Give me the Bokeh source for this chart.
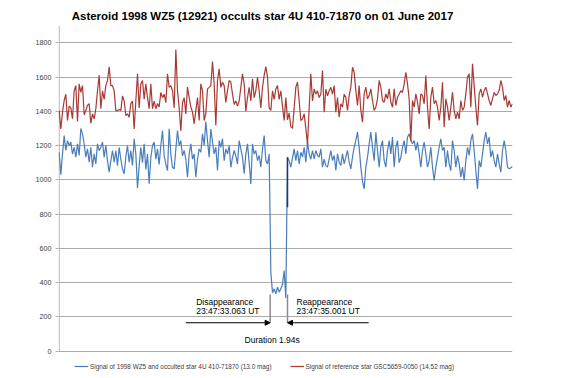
from bokeh.plotting import figure
from bokeh.models import Range1d, FixedTicker, Label, Legend, LegendItem, Arrow, NormalHead
from bokeh.embed import file_html
from bokeh.resources import INLINE

TITLE = "Asteroid 1998 WZ5 (12921) occults star 4U 410-71870 on 01 June 2017"
BLUE_LABEL = "Signal of 1998 WZ5 and occulted star 4U 410-71870 (13.0 mag)"
RED_LABEL = "Signal of reference star GSC5659-0050 (14.52 mag)"
Y_TICKS = [0, 200, 400, 600, 800, 1000, 1200, 1400, 1600, 1800]
Y_AXIS_TOP = 1900

# Signal of the occulted star + asteroid (frame samples)
blue = [
    1160, 1030, 1150, 1258, 1171, 1229, 1200, 1220, 1150, 1190,
    1132, 1210, 1142, 1300, 1268, 1210, 1132, 1181, 1103, 1190,
    1073, 1151, 1093, 1210, 1170, 1190, 1220, 1132, 1200, 1112,
    1044, 1112, 1171, 1103, 1171, 1083, 1190, 1120, 1064, 1035,
    1132, 1200, 1103, 1171, 1083, 1239, 1150, 951, 1080, 1190,
    1100, 1210, 1060, 1150, 977, 1130, 1200, 1220, 1120, 1180,
    1090, 1200, 1288, 1140, 1090, 1054, 1298, 1150, 1072, 1064,
    1180, 1288, 1200, 1229, 1140, 1171, 1120, 1015, 1150, 1210,
    1120, 1151, 1015, 1120, 1180, 1161, 1268, 1200, 1340, 1229,
    1132, 1297, 1220, 1151, 1190, 1054, 1229, 1190, 1240, 1112,
    1180, 1151, 1200, 1073, 1130, 1171, 1140, 1093, 1229, 1180,
    1132, 1035, 1150, 1210, 1100, 976, 1210, 1150, 1171, 1112,
    1142, 1073, 1180, 1258, 1112, 1093, 1150,
    460, 340, 363, 334, 373, 344, 363, 390, 470, 310,
    1132, 1110, 1074, 1130, 1181, 1112, 1171, 1093, 1161, 1132,
    1190, 1103, 1220, 1151, 1120, 1171, 1122, 1171, 1142, 1132,
    1181, 1074, 1120, 1083, 1074, 1122, 1171, 1112, 1142, 1054,
    1151, 1103, 1083, 1151, 1093, 1132, 1171, 1103, 1064, 1132,
    1190, 1230, 1278, 1190, 1074, 990, 947, 1074, 1132, 1210,
    1278, 1190, 1112, 1278, 1171, 1074, 1190, 1229, 1112, 1074,
    1171, 1229, 1151, 1249, 1074, 1190, 1229, 1100, 1130, 1190,
    1229, 1151, 1249, 1268, 1229, 1210, 1229, 1171, 1220, 1151,
    1074, 1171, 1220, 1151, 1074, 1112, 1190, 1074, 996, 1074,
    1130, 1190, 1239, 1171, 1190, 1074, 1171, 1093, 1054, 1229,
    1171, 1074, 1142, 1093, 1015, 1074, 996, 1112, 1190, 1142,
    1229, 1268, 1171, 1054, 947, 1112, 1074, 1151, 1229, 1278,
    1210, 1249, 1132, 1171, 1112, 1074, 1151, 1093, 1044, 1171,
    1229, 1171, 1074, 1064, 1070, 1077,
]

# Signal of the reference star
red = [
    1404, 1297, 1395, 1463, 1500, 1346, 1430, 1420, 1356, 1520,
    1550, 1340, 1560, 1510, 1550, 1380, 1405, 1435, 1445, 1330,
    1385, 1356, 1415, 1520, 1610, 1415, 1520, 1470, 1550, 1580,
    1660, 1550, 1550, 1520, 1404, 1404, 1410, 1404, 1490, 1460,
    1375, 1385, 1365, 1445, 1460, 1297, 1460, 1619, 1420, 1560,
    1580, 1470, 1560, 1480, 1415, 1560, 1415, 1460, 1415, 1445,
    1425, 1510, 1480, 1500, 1450, 1619, 1540, 1550, 1520, 1420,
    1761, 1520, 1420, 1285, 1450, 1480, 1385, 1541, 1480, 1425,
    1395, 1327, 1405, 1480, 1346, 1560, 1520, 1346, 1390, 1531,
    1540, 1550, 1690, 1560, 1317, 1580, 1648, 1540, 1570, 1550,
    1452, 1520, 1580, 1570, 1500, 1440, 1460, 1430, 1460, 1540,
    1619, 1560, 1400, 1480, 1540, 1460, 1590, 1480, 1520, 1599,
    1520, 1420, 1540, 1610, 1661, 1600, 1420, 1405, 1520, 1470,
    1530, 1550, 1470, 1520, 1430, 1346, 1480, 1350, 1390, 1310,
    1300, 1420, 1541, 1570, 1460, 1346, 1355, 1385, 1300, 1206,
    1420, 1619, 1460, 1530, 1500, 1520, 1480, 1500, 1638, 1395,
    1530, 1490, 1520, 1540, 1500, 1550, 1395, 1480, 1365, 1444,
    1424, 1500, 1482, 1405, 1492, 1541, 1657, 1628, 1521, 1434,
    1550, 1405, 1336, 1502, 1541, 1473, 1492, 1531, 1463, 1405,
    1424, 1473, 1580, 1541, 1463, 1453, 1502, 1473, 1531, 1453,
    1424, 1531, 1434, 1482, 1500, 1520, 1510, 1560, 1628, 1560,
    1470, 1225, 1463, 1424, 1502, 1453, 1385, 1502, 1492, 1444,
    1609, 1424, 1297, 1482, 1541, 1444, 1463, 1424, 1346, 1424,
    1570, 1307, 1473, 1424, 1346, 1424, 1511, 1405, 1356, 1395,
    1356, 1463, 1405, 1424, 1502, 1599, 1619, 1424, 1677, 1550,
    1424, 1317, 1502, 1531, 1482, 1521, 1541, 1502, 1463, 1434,
    1473, 1511, 1492, 1502, 1521, 1580, 1541, 1463, 1492, 1424,
    1463, 1424, 1444,
]

# event annotation
DISAPPEAR_IDX = 126.6
REAPPEAR_IDX = 137.0
DISAPPEAR_TEXT = ["Disappearance", "23:47:33.063 UT"]
REAPPEAR_TEXT = ["Reappearance", "23:47:35.001 UT"]
DURATION_TEXT = "Duration 1.94s"

x = list(range(len(blue)))
N = len(blue)

GRID = "#ABABAB"
FONT = "Liberation Sans"

# The frame covers the whole canvas height; title and legend live inside it.
p = figure(width=567, height=378, output_backend="svg", toolbar_location=None,
           x_range=Range1d(-0.4, N - 1), y_range=Range1d(-160.6, 2047.1),
           x_axis_location=None,
           min_border_left=58, min_border_right=55, min_border_top=0, min_border_bottom=0)
p.outline_line_color = None
p.background_fill_color = "white"
p.border_fill_color = "white"

p.xgrid.visible = False
p.yaxis.ticker = FixedTicker(ticks=Y_TICKS)
p.ygrid.ticker = FixedTicker(ticks=Y_TICKS)
p.ygrid.grid_line_color = GRID
p.ygrid.grid_line_width = 1
p.yaxis.axis_line_color = None
p.yaxis.major_tick_line_color = GRID
p.yaxis.major_tick_out = 3
p.yaxis.major_tick_in = 0
p.yaxis.minor_tick_line_color = None
p.yaxis.major_label_standoff = 4
p.yaxis.major_label_text_font = FONT
p.yaxis.major_label_text_font_size = "7.2px"
p.yaxis.major_label_text_color = "#404040"

# value axis line (from 0 up to the top of the value scale)
p.segment(x0=[0], y0=[0], x1=[0], y1=[Y_AXIS_TOP], line_color=GRID, line_width=1)

r_blue = p.line(x, blue, line_color="#4A7EBB", line_width=1.2)
r_red = p.line(x, red, line_color="#A83A36", line_width=1.2)

# reappearance highlight and event markers
p.segment(x0=[REAPPEAR_IDX], y0=[840], x1=[REAPPEAR_IDX], y1=[blue[137]],
          line_color="#1F3A60", line_width=1.5)
p.segment(x0=[DISAPPEAR_IDX, REAPPEAR_IDX], y0=[330, 330],
          x1=[DISAPPEAR_IDX, REAPPEAR_IDX], y1=[165, 165],
          line_color="#8C8C8C", line_width=1.5)

ARROW_Y = 165
p.add_layout(Arrow(end=NormalHead(size=5, fill_color="black", line_color="black"),
                   x_start=76, y_start=ARROW_Y, x_end=DISAPPEAR_IDX, y_end=ARROW_Y,
                   line_color="black", line_width=1))
p.add_layout(Arrow(end=NormalHead(size=5, fill_color="black", line_color="black"),
                   x_start=185.7, y_start=ARROW_Y, x_end=REAPPEAR_IDX, y_end=ARROW_Y,
                   line_color="black", line_width=1))

def lab(xv, yv, text, align="left", size="8.5px", style="normal", color="black"):
    p.add_layout(Label(x=xv, y=yv, text=text, text_align=align, text_baseline="middle",
                       text_font=FONT, text_font_size=size, text_font_style=style,
                       text_color=color))

lab(82.2, 289, DISAPPEAR_TEXT[0])
lab(82.2, 235, DISAPPEAR_TEXT[1])
lab(142.4, 289, REAPPEAR_TEXT[0])
lab(142.4, 235, REAPPEAR_TEXT[1])
lab(127.8, 67, DURATION_TEXT, align="center")
lab(122, 1956, TITLE, align="center", size="11.5px", style="bold")

legend = Legend(items=[LegendItem(label=BLUE_LABEL, renderers=[r_blue]),
                       LegendItem(label=RED_LABEL, renderers=[r_red])],
                orientation="horizontal", location=(16, 8),
                border_line_color=None, background_fill_alpha=0,
                label_text_font=FONT, label_text_font_size="6.4px",
                label_text_color="#404040",
                glyph_width=14, glyph_height=8, label_height=8,
                padding=0, margin=0, spacing=18, label_standoff=2)
p.add_layout(legend)

open("out.html", "w").write(file_html(p, INLINE))
